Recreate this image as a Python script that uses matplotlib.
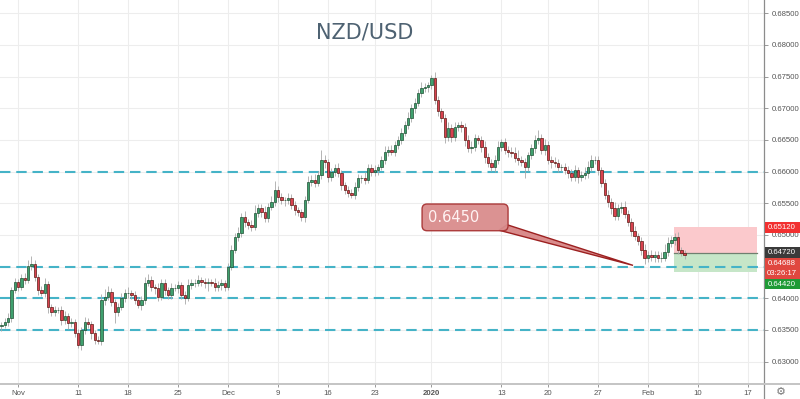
import numpy as np
import matplotlib
matplotlib.use('Agg')
import matplotlib.pyplot as plt
from matplotlib.patches import Rectangle, FancyBboxPatch, Polygon
from matplotlib.transforms import IdentityTransform
from matplotlib.lines import Line2D

# ---------------- data (8-hour candles, NZD/USD) ----------------
first_open = 0.63560
closes = [
    0.63579, 0.63626, 0.63689, 0.64131, 0.64258, 0.64179, 0.64321, 0.64289, 0.64510, 0.64542,
    0.64337, 0.64131, 0.64084, 0.64226, 0.63863, 0.63784, 0.63815, 0.63815, 0.63658, 0.63721,
    0.63610, 0.63626, 0.63452, 0.63263, 0.63500, 0.63626, 0.63594, 0.63452, 0.63342, 0.63326,
    0.63973, 0.64021, 0.64100, 0.63942, 0.63784, 0.63863, 0.64005, 0.64084, 0.64084, 0.64052,
    0.63973, 0.63894, 0.63973, 0.64242, 0.64289, 0.64179, 0.64163, 0.64021, 0.64242, 0.64131,
    0.64052, 0.64163, 0.64163, 0.64210, 0.64052, 0.64005, 0.64210, 0.64242, 0.64242, 0.64289,
    0.64258, 0.64242, 0.64258, 0.64242, 0.64179, 0.64210, 0.64242, 0.64179, 0.64494, 0.64763,
    0.64968, 0.65031, 0.65284, 0.65205, 0.65158, 0.65126, 0.65347, 0.65426, 0.65363, 0.65268,
    0.65442, 0.65521, 0.65711, 0.65600, 0.65552, 0.65552, 0.65584, 0.65473, 0.65394, 0.65363,
    0.65284, 0.65552, 0.65836, 0.65868, 0.65821, 0.65947, 0.66184, 0.66152, 0.65915, 0.65994,
    0.66057, 0.65978, 0.65789, 0.65711, 0.65663, 0.65631, 0.65757, 0.65900, 0.65900, 0.65868,
    0.66057, 0.65994, 0.66026, 0.66073, 0.66184, 0.66310, 0.66342, 0.66310, 0.66421, 0.66500,
    0.66610, 0.66736, 0.66847, 0.67005, 0.67084, 0.67242, 0.67321, 0.67336, 0.67368, 0.67478,
    0.67131, 0.66957, 0.66847, 0.66547, 0.66689, 0.66547, 0.66705, 0.66736, 0.66705, 0.66500,
    0.66373, 0.66389, 0.66531, 0.66500, 0.66389, 0.66231, 0.66136, 0.66073, 0.66184, 0.66389,
    0.66468, 0.66342, 0.66310, 0.66294, 0.66215, 0.66184, 0.66152, 0.66073, 0.66263, 0.66373,
    0.66500, 0.66531, 0.66342, 0.66421, 0.66184, 0.66152, 0.66136, 0.66073, 0.66073, 0.66026,
    0.65978, 0.65915, 0.66026, 0.65915, 0.65947, 0.65978, 0.66073, 0.66184, 0.66184, 0.66026,
    0.65821, 0.65631, 0.65521, 0.65426, 0.65300, 0.65426, 0.65442, 0.65331, 0.65205, 0.65063,
    0.64984, 0.64905, 0.64763, 0.64637, 0.64684, 0.64652, 0.64684, 0.64637, 0.64637, 0.64731,
    0.64873, 0.64921, 0.64968, 0.64763, 0.64715, 0.64688,
]
wick_hi_pips = [
    4, 6, 8, 5, 7, 5, 6, 8, 10, 12,
    6, 5, 7, 9, 5, 4, 6, 5, 6, 8,
    5, 7, 4, 6, 5, 8, 6, 4, 5, 6,
    9, 12, 10, 6, 4, 7, 8, 6, 9, 5,
    6, 4, 7, 10, 9, 6, 5, 8, 7, 6,
    5, 8, 6, 7, 5, 6, 9, 7, 6, 8,
    5, 7, 6, 5, 8, 6, 7, 5, 6, 8,
    7, 10, 6, 9, 5, 8, 12, 6, 7, 9,
    6, 10, 14, 7, 6, 5, 8, 6, 7, 5,
    4, 6, 9, 8, 10, 7, 15, 8, 5, 7,
    6, 8, 5, 4, 6, 7, 8, 6, 5, 9,
    7, 6, 8, 5, 7, 9, 6, 8, 7, 6,
    8, 7, 9, 6, 8, 7, 9, 6, 5, 5,
    10, 6, 5, 7, 9, 6, 8, 5, 7, 6,
    8, 9, 7, 5, 6, 10, 7, 6, 8, 9,
    5, 7, 6, 8, 10, 12, 6, 7, 5, 6,
    8, 13, 7, 10, 6, 6, 8, 7, 5, 6,
    7, 6, 8, 5, 7, 9, 10, 8, 6, 7,
    5, 6, 8, 7, 9, 6, 8, 10, 7, 6,
    8, 5, 7, 9, 6, 8, 7, 6, 9, 12,
    10, 7, 6, 8, 5, 4,
]
wick_lo_pips = [
    8, 5, 6, 7, 5, 6, 4, 7, 5, 6,
    7, 8, 5, 6, 9, 6, 7, 5, 8, 6,
    9, 6, 7, 5, 8, 6, 7, 9, 6, 5,
    6, 8, 5, 7, 17, 6, 5, 7, 8, 6,
    7, 5, 8, 6, 5, 7, 9, 6, 5, 8,
    6, 7, 5, 8, 6, 9, 5, 7, 6, 5,
    6, 8, 12, 5, 6, 7, 8, 6, 5, 4,
    5, 6, 7, 8, 6, 7, 5, 6, 8, 7,
    6, 5, 7, 8, 6, 9, 7, 6, 8, 7,
    7, 8, 5, 6, 7, 5, 6, 9, 8, 6,
    7, 6, 8, 7, 6, 5, 7, 6, 8, 6,
    5, 7, 6, 8, 5, 6, 7, 5, 6, 7,
    6, 5, 7, 6, 8, 5, 6, 7, 8, 6,
    7, 8, 6, 9, 7, 8, 6, 7, 8, 9,
    7, 8, 6, 7, 8, 9, 6, 7, 8, 6,
    7, 6, 8, 7, 6, 8, 7, 17, 6, 7,
    8, 6, 7, 8, 6, 9, 7, 8, 7, 6,
    8, 7, 6, 9, 7, 6, 8, 7, 6, 8,
    6, 7, 8, 9, 7, 6, 8, 7, 6, 8,
    7, 6, 8, 9, 6, 7, 8, 6, 7, 5,
    6, 7, 8, 6, 5, 6,
]
assert len(closes) == len(wick_hi_pips) == len(wick_lo_pips)

tick_labels = ['Nov', '11', '18', '25', 'Dec', '9', '16', '23', '2020',
               '13', '20', '27', 'Feb', '10', '17']
tick_bars = [5, 23, 38, 53, 68, 83, 98, 112, 129, 150, 164, 179, 194, 209, 224]

support_levels = [0.660, 0.645, 0.640, 0.635]
title = 'NZD/USD'
callout_text = '0.6450'
callout_target = 0.6452

pos_stop = 0.6512
pos_entry = 0.6472
pos_target = 0.6442
last_price = 0.64688
countdown = '03:26:17'

# ---------------- derived ----------------
closes = np.array(closes)
opens = np.concatenate([[first_open], closes[:-1]])
highs = np.maximum(opens, closes) + np.array(wick_hi_pips) * 1e-4
lows = np.minimum(opens, closes) - np.array(wick_lo_pips) * 1e-4
idx = np.arange(len(closes))
up = closes >= opens

# ---------------- figure ----------------
W, H = 800, 399
fig = plt.figure(figsize=(W / 100, H / 100), dpi=100)
fig.patch.set_facecolor('white')
ax = fig.add_axes([0, 15 / H, 764 / W, 384 / H])
ax.set_xlim(-0.45, 228.8)
ax.set_ylim(0.62647, 0.68710)

def to_px(x, y):
    return ax.transData.transform((x, y))

# ---------------- right price labels layout (stacked) ----------------
lab_h = 10.5
items = [(pos_stop, '%.5f' % pos_stop, '#f23030'),
         (pos_entry, '%.5f' % pos_entry, '#3a3a3a'),
         (last_price, '%.5f' % last_price, '#e0473f'),
         (None, countdown, '#e0473f'),
         (pos_target, '%.5f' % pos_target, '#1f9a36')]
label_centers = []
prev = None
for val, txt, col in items:
    if val is None:
        cy = prev - lab_h
    else:
        cy = to_px(0, val)[1]
        if prev is not None and cy > prev - lab_h:
            cy = prev - lab_h
    prev = cy
    label_centers.append(cy)

# grid / ticks
yt = np.round(np.arange(0.630, 0.6851, 0.005), 3)
ax.set_yticks(yt)
ylabels = []
for v in yt:
    py = to_px(0, v)[1]
    covered = any(abs(py - c) < lab_h * 0.6 for c in label_centers)
    ylabels.append('' if covered else '%.5f' % v)
ax.set_yticklabels(ylabels)
ax.set_xticks(tick_bars)
ax.set_xticklabels(tick_labels)
ax.grid(True, color='#ededed', lw=0.8, zorder=0)
ax.set_axisbelow(True)

ax.yaxis.tick_right()
ax.tick_params(axis='y', which='both', direction='out', length=3, width=0.7,
               color='#999999', pad=2.5, labelsize=5.6, labelcolor='#555555')
ax.tick_params(axis='x', which='both', direction='out', length=2.5, width=0.7,
               color='#999999', pad=1.5, labelsize=5.6, labelcolor='#555555')
for lab in ax.get_xticklabels() + ax.get_yticklabels():
    lab.set_fontfamily('Liberation Sans')
for lab in ax.get_xticklabels():
    if lab.get_text() == '2020':
        lab.set_fontweight('bold')

for s in ['top', 'left']:
    ax.spines[s].set_visible(False)
ax.spines['right'].set_color('#8c8c8c')
ax.spines['right'].set_linewidth(0.9)
ax.spines['bottom'].set_color('#c4c4c4')
ax.spines['bottom'].set_linewidth(1.4)

# support / resistance dashed lines
for lv in support_levels:
    ax.axhline(lv, color='#45b3c7', lw=1.5, dashes=(5.0, 2.8), zorder=2)

# position tool
x0p, x1p = 201.8, 226.7
ax.add_patch(Rectangle((x0p, pos_entry), x1p - x0p, pos_stop - pos_entry,
                       facecolor='#fbc9cc', edgecolor='none', zorder=1.5))
ax.add_patch(Rectangle((x0p, pos_target), x1p - x0p, pos_entry - pos_target,
                       facecolor='#c6e6c8', edgecolor='none', zorder=1.5))
ax.plot([x0p, x1p], [pos_entry, pos_entry], color='#6f7f6f', lw=0.9, zorder=1.6)

# candles
up_body, up_edge = '#3fa06e', '#1f4f33'
dn_body, dn_edge = '#d9414f', '#5b1a13'
ax.vlines(idx, lows, highs, color='#a8a8a8', lw=0.6, zorder=3)
bh = np.maximum(np.abs(closes - opens), 0.00005)
bb = np.minimum(opens, closes)
ax.bar(idx[up], bh[up], bottom=bb[up], width=0.72, color=up_body,
       edgecolor=up_edge, linewidth=0.5, zorder=4)
ax.bar(idx[~up], bh[~up], bottom=bb[~up], width=0.72, color=dn_body,
       edgecolor=dn_edge, linewidth=0.5, zorder=4)

# ---------------- callout ----------------
bx0, by0 = to_px(126.2, 0.65067)
bx1, by1 = to_px(152.0, 0.65489)
tipx, tipy = to_px(189.5, callout_target)
box = FancyBboxPatch((bx0 + 4, by0 + 4), (bx1 - bx0) - 8, (by1 - by0) - 8,
                     boxstyle='round,pad=4,rounding_size=5',
                     facecolor='#d98c8c', edgecolor='#a83434', lw=1.0,
                     transform=IdentityTransform(), zorder=6, alpha=0.95)
fig.add_artist(box)
tail = Polygon([(bx1 - 9, by0 + 0.5), (bx1 - 1, by0 + 6), (tipx, tipy)],
               closed=True, facecolor='#d98c8c', edgecolor='#9c2020', lw=1.0,
               transform=IdentityTransform(), zorder=5.9)
fig.add_artist(tail)
fig.text((bx0 + 6) / W, ((by0 + by1) / 2) / H, callout_text, ha='left', va='center',
         fontsize=10.5, color='#fff3f3', zorder=7)

# title
fig.text(365 / W, 1 - 33 / H, title, ha='center', va='center', fontsize=15,
         color='#4e6272')

# right price labels
for (val, txt, col), cy in zip(items, label_centers):
    fig.add_artist(Rectangle((764.5, cy - lab_h / 2), 35.5, lab_h, facecolor=col,
                             edgecolor='none', transform=IdentityTransform(), zorder=8))
    fig.text(782 / W, cy / H, txt, ha='center', va='center', fontsize=5.6,
             color='white', family='Liberation Sans', zorder=9)

# frame lines of the price/time axis area
fig.add_artist(Line2D([764 / W, 764 / W], [0, 15 / H], color='#8c8c8c', lw=0.9,
                      transform=fig.transFigure))
fig.add_artist(Line2D([764 / W, 1], [15 / H, 15 / H], color='#c4c4c4', lw=1.4,
                      transform=fig.transFigure))
fig.text(781 / W, 7 / H, '\u2699', ha='center', va='center', fontsize=8,
         color='#777777', family='DejaVu Sans')

fig.savefig('out.png', dpi=100)
